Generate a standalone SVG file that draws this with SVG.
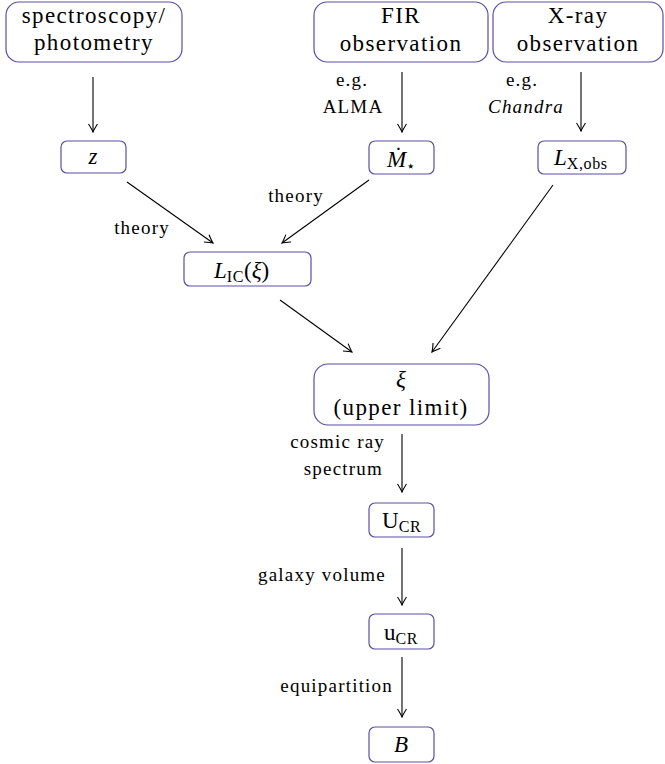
<svg xmlns="http://www.w3.org/2000/svg" width="665" height="764" viewBox="0 0 665 764" font-family="Liberation Serif, DejaVu Serif, serif">
<style>
.box{fill:#fff;stroke:#5b4fa6;stroke-width:1.2}
.edge{stroke:#000;stroke-width:1.1;fill:none}
</style>
<defs>
<marker id="ah" viewBox="-9 -5 10 10" refX="0" refY="0" markerWidth="10" markerHeight="10" markerUnits="userSpaceOnUse" orient="auto">
<path d="M-8,-4.5 Q-2.5,-1 0,0 Q-2.5,1 -8,4.5" fill="none" stroke="#000" stroke-width="1.1"/>
</marker>
</defs>
<rect width="665" height="764" fill="#fff"/>
<g id="connectors" font-family="Liberation Serif, serif">
<line class="edge" marker-end="url(#ah)" x1="93" y1="77" x2="93" y2="132"/>
<line class="edge" marker-end="url(#ah)" x1="402" y1="72" x2="402" y2="132"/>
<line class="edge" marker-end="url(#ah)" x1="581" y1="72" x2="581" y2="131"/>
<line class="edge" marker-end="url(#ah)" x1="127" y1="182" x2="213" y2="243"/>
<line class="edge" marker-end="url(#ah)" x1="369" y1="180" x2="282" y2="243"/>
<line class="edge" marker-end="url(#ah)" x1="280" y1="300" x2="352" y2="352"/>
<line class="edge" marker-end="url(#ah)" x1="553" y1="185" x2="432" y2="352"/>
<line class="edge" marker-end="url(#ah)" x1="402" y1="434" x2="402" y2="492"/>
<line class="edge" marker-end="url(#ah)" x1="402" y1="548" x2="402" y2="605"/>
<line class="edge" marker-end="url(#ah)" x1="402" y1="657" x2="402" y2="717"/>
<text style="font-family:'Liberation Serif','DejaVu Serif',serif !important;font-size:19px;letter-spacing:1.2px" x="352" y="86" text-anchor="middle">e.g.</text>
<text style="font-family:'Liberation Serif','DejaVu Serif',serif !important;font-size:19px;letter-spacing:1.2px" x="353" y="113" text-anchor="middle">ALMA</text>
<text style="font-family:'Liberation Serif','DejaVu Serif',serif !important;font-size:19px;letter-spacing:1.2px" x="522" y="86" text-anchor="middle">e.g.</text>
<text style="font-family:'Liberation Serif','DejaVu Serif',serif !important;font-size:19px;letter-spacing:1.2px;font-style:italic" x="526" y="113" text-anchor="middle">Chandra</text>
<text style="font-family:'Liberation Serif','DejaVu Serif',serif !important;font-size:19px;letter-spacing:1.2px" x="142" y="234" text-anchor="middle">theory</text>
<text style="font-family:'Liberation Serif','DejaVu Serif',serif !important;font-size:19px;letter-spacing:1.2px" x="296" y="202" text-anchor="middle">theory</text>
<text style="font-family:'Liberation Serif','DejaVu Serif',serif !important;font-size:19px;letter-spacing:1.2px" x="385" y="448" text-anchor="end">cosmic ray</text>
<text style="font-family:'Liberation Serif','DejaVu Serif',serif !important;font-size:19px;letter-spacing:1.2px" x="383" y="475" text-anchor="end">spectrum</text>
<text style="font-family:'Liberation Serif','DejaVu Serif',serif !important;font-size:19px;letter-spacing:1.2px" x="386" y="581" text-anchor="end">galaxy volume</text>
<text style="font-family:'Liberation Serif','DejaVu Serif',serif !important;font-size:19px;letter-spacing:1.2px" x="393" y="692" text-anchor="end">equipartition</text>
</g>
<g id="spectroscopy" font-family="Liberation Serif, serif">
<rect class="box" x="6" y="2" width="176" height="60" rx="13"/>
<text style="font-family:'Liberation Serif','DejaVu Serif',serif !important;font-size:23px;letter-spacing:1.4px" text-anchor="middle" x="94" y="23">spectroscopy/</text>
<text style="font-family:'Liberation Serif','DejaVu Serif',serif !important;font-size:23px;letter-spacing:1.4px" text-anchor="middle" x="94" y="50">photometry</text>
</g>
<g id="fir" font-family="Liberation Serif, serif">
<rect class="box" x="314" y="2" width="174" height="60" rx="13"/>
<text style="font-family:'Liberation Serif','DejaVu Serif',serif !important;font-size:23px;letter-spacing:1.4px" text-anchor="middle" x="401" y="23">FIR</text>
<text style="font-family:'Liberation Serif','DejaVu Serif',serif !important;font-size:23px;letter-spacing:1.4px" text-anchor="middle" x="401" y="51">observation</text>
</g>
<g id="xray" font-family="Liberation Serif, serif">
<rect class="box" x="493" y="2" width="170" height="60" rx="13"/>
<text style="font-family:'Liberation Serif','DejaVu Serif',serif !important;font-size:23px;letter-spacing:1.4px" text-anchor="middle" x="578" y="23">X-ray</text>
<text style="font-family:'Liberation Serif','DejaVu Serif',serif !important;font-size:23px;letter-spacing:1.4px" text-anchor="middle" x="578" y="51">observation</text>
</g>
<g id="z" font-family="Liberation Serif, serif">
<rect class="box" x="61" y="141" width="65" height="32" rx="6"/>
<text style="font-family:'Liberation Serif','DejaVu Serif',serif !important;font-size:23px;font-style:italic" text-anchor="middle" x="93" y="164">z</text>
</g>
<g id="mdot" font-family="Liberation Serif, serif">
<rect class="box" x="369" y="141" width="65" height="33" rx="6"/>
<text style="font-family:'Liberation Serif','DejaVu Serif',serif !important;font-size:23px" x="387" y="167"><tspan style="font-style:italic">Ṁ</tspan><tspan style="font-size:15px" dy="4">⋆</tspan></text>
</g>
<g id="lxobs" font-family="Liberation Serif, serif">
<rect class="box" x="538" y="141" width="88" height="33" rx="6"/>
<text style="font-family:'Liberation Serif','DejaVu Serif',serif !important;font-size:23px" x="554" y="165"><tspan style="font-style:italic">L</tspan><tspan style="font-size:16px;letter-spacing:0.6px" dy="4">X,obs</tspan></text>
</g>
<g id="lic" font-family="Liberation Serif, serif">
<rect class="box" x="184" y="252" width="127" height="34" rx="6"/>
<text style="font-family:'Liberation Serif','DejaVu Serif',serif !important;font-size:23px" x="214" y="278"><tspan style="font-style:italic">L</tspan><tspan style="font-size:16px;letter-spacing:0.6px" dy="4">IC</tspan><tspan dy="-4">(</tspan><tspan style="font-style:italic">ξ</tspan>)</text>
</g>
<g id="xi" font-family="Liberation Serif, serif">
<rect class="box" x="314" y="364" width="175" height="61" rx="14"/>
<text style="font-family:'Liberation Serif','DejaVu Serif',serif !important;font-size:23px;font-style:italic" text-anchor="middle" x="401" y="387">ξ</text>
<text style="font-family:'Liberation Serif','DejaVu Serif',serif !important;font-size:23px;letter-spacing:1.4px" text-anchor="middle" x="401" y="415">(upper limit)</text>
</g>
<g id="ucr_big" font-family="Liberation Serif, serif">
<rect class="box" x="369" y="503" width="65" height="34" rx="6"/>
<text style="font-family:'Liberation Serif','DejaVu Serif',serif !important;font-size:23px" x="382" y="528">U<tspan style="font-size:16px;letter-spacing:0.6px" dy="4">CR</tspan></text>
</g>
<g id="ucr_small" font-family="Liberation Serif, serif">
<rect class="box" x="369" y="614" width="65" height="35" rx="6"/>
<text style="font-family:'Liberation Serif','DejaVu Serif',serif !important;font-size:23px" x="384" y="640">u<tspan style="font-size:16px;letter-spacing:0.6px" dy="4">CR</tspan></text>
</g>
<g id="b" font-family="Liberation Serif, serif">
<rect class="box" x="369" y="727" width="65" height="35" rx="6"/>
<text style="font-family:'Liberation Serif','DejaVu Serif',serif !important;font-size:23px;font-style:italic" text-anchor="middle" x="401" y="752">B</text>
</g>
</svg>
